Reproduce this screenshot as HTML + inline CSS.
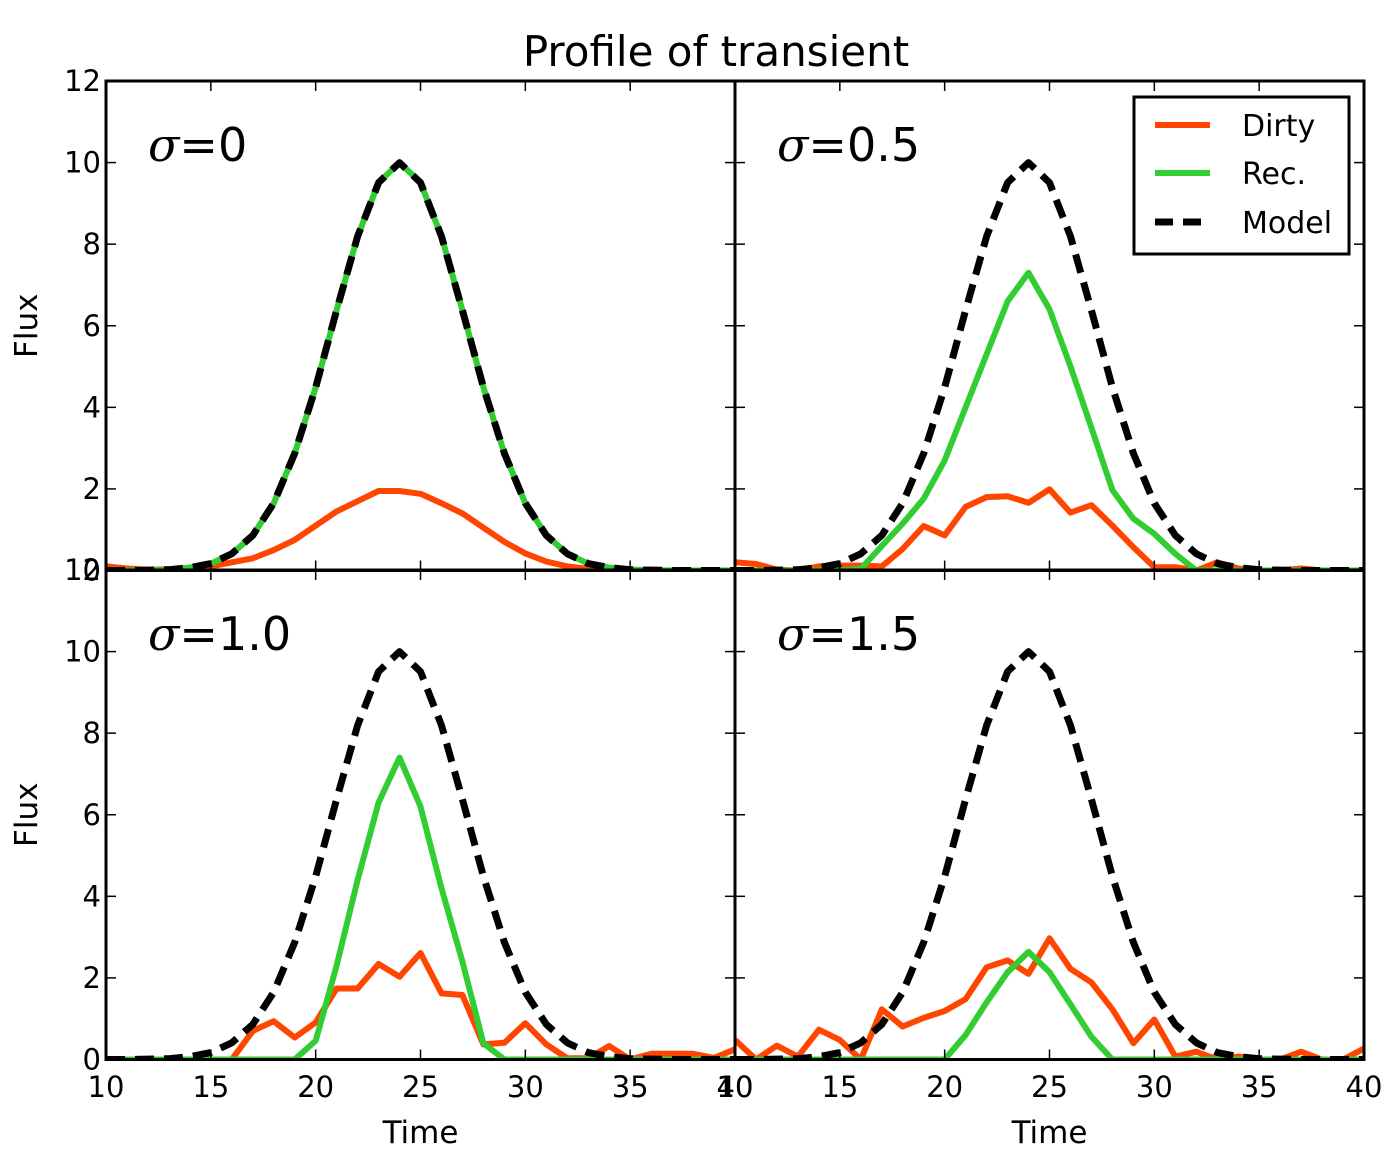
<!DOCTYPE html>
<html><head><meta charset="utf-8"><style>
html,body{margin:0;padding:0;background:#fff;}
svg{display:block;font-family:"DejaVu Sans","Liberation Sans",sans-serif;}
</style></head><body>
<svg id="fig" width="1392" height="1153" viewBox="0 0 1392 1153" xmlns="http://www.w3.org/2000/svg">
<rect width="1392" height="1153" fill="#fff"/>
<text x="716" y="66" font-size="42" text-anchor="middle">Profile of transient</text>
<g id="plots"></g>
</svg>
<script>
const times = [10,11,12,13,14,15,16,17,18,19,20,21,22,23,24,25,26,27,28,29,30,31,32,33,34,35,36,37,38,39,40];
const model = [0,0,0.01,0.02,0.07,0.17,0.41,0.86,1.65,2.87,4.49,6.38,8.19,9.51,10,9.51,8.19,6.38,4.49,2.87,1.65,0.86,0.41,0.17,0.07,0.02,0.01,0,0,0,0];
const dirty0 = [0.1,0.05,0.02,0.03,0.05,0.1,0.2,0.3,0.5,0.75,1.1,1.45,1.7,1.95,1.95,1.88,1.65,1.4,1.05,0.7,0.42,0.22,0.1,0.04,0.02,0,0,0,0,0,0];
const rec0 = [0,0,0.01,0.02,0.07,0.17,0.41,0.86,1.65,2.87,4.49,6.38,8.19,9.51,10,9.51,8.19,6.38,4.49,2.87,1.65,0.86,0.41,0.17,0.07,0.02,0.01,0,0,0,0];
const dirty05 = [0.2,0.16,0.02,0,0.1,0.12,0.12,0.1,0.53,1.09,0.86,1.56,1.8,1.82,1.66,1.99,1.42,1.6,1.1,0.57,0.08,0.08,0,0.2,0.05,0,0,0.05,0,0,0];
const rec05 = [0,0,0,0,0,0,0.04,0.6,1.15,1.76,2.7,4.0,5.3,6.6,7.3,6.4,5.0,3.5,1.97,1.27,0.9,0.41,0,0,0,0,0,0,0,0,0];
const dirty10 = [0,0,0,0,0,0,0,0.7,0.94,0.54,0.91,1.74,1.74,2.34,2.03,2.61,1.62,1.58,0.37,0.41,0.89,0.37,0.03,0.03,0.33,0,0.14,0.14,0.14,0.04,0.25];
const rec10 = [0,0,0,0,0,0,0,0,0,0,0.46,2.3,4.4,6.3,7.4,6.2,4.2,2.4,0.4,0,0,0,0,0,0,0,0,0,0,0,0];
const dirty15 = [0.48,0,0.34,0.07,0.73,0.48,0,1.23,0.81,1.02,1.19,1.48,2.26,2.43,2.1,2.97,2.22,1.89,1.23,0.4,0.98,0.07,0.19,0,0.07,0,0,0.19,0,0,0.27];
const rec15 = [0,0,0,0,0,0,0,0,0,0,0,0.6,1.4,2.14,2.64,2.14,1.35,0.56,0,0,0,0,0,0,0,0,0,0,0,0,0];
const yTicks = [0,2,4,6,8,10,12];
const xTicks = [10,15,20,25,30,35,40];
const panels = [
  {name:'sigma-0', label:'0', x0:106, y0:81, dirty:dirty0, rec:rec0, left:true, bottom:false},
  {name:'sigma-0.5', label:'0.5', x0:735, y0:81, dirty:dirty05, rec:rec05, left:false, bottom:false},
  {name:'sigma-1.0', label:'1.0', x0:106, y0:570, dirty:dirty10, rec:rec10, left:true, bottom:true},
  {name:'sigma-1.5', label:'1.5', x0:735, y0:570, dirty:dirty15, rec:rec15, left:false, bottom:true}
];
const W=629, H=489.5, NS='http://www.w3.org/2000/svg';
const root=document.getElementById('plots');
function mk(tag, attrs, parent){const e=document.createElementNS(NS,tag);for(const k in attrs)e.setAttribute(k,attrs[k]);parent.appendChild(e);return e;}
panels.forEach(p=>{
  const g=mk('g',{},root);
  
  
  const sx=t=>p.x0+(t-10)/30*W;
  const sy=v=>p.y0+H-v/12*H;
  const cid='clip-'+p.name.replace('.','_');
  const cp=mk('clipPath',{id:cid},g);mk('rect',{x:p.x0,y:p.y0,width:W,height:H},cp);
  const lines=mk('g',{'clip-path':'url(#'+cid+')'},g);
  const pts=arr=>arr.map((v,i)=>sx(times[i]).toFixed(1)+','+sy(v).toFixed(1)).join(' ');
  const ld=mk('polyline',{points:pts(p.dirty),fill:'none',stroke:'#ff4500','stroke-width':6,'stroke-linejoin':'round'},lines);
  
  
  const lr=mk('polyline',{points:pts(p.rec),fill:'none',stroke:'#32cd32','stroke-width':6,'stroke-linejoin':'round'},lines);
  
  
  const lm=mk('polyline',{points:pts(model),fill:'none',stroke:'#000','stroke-width':7,'stroke-dasharray':'19,10','stroke-linejoin':'round'},lines);
  
  
  yTicks.forEach(v=>{
    mk('line',{x1:p.x0,x2:p.x0+10,y1:sy(v),y2:sy(v),stroke:'#000','stroke-width':1.5},g);
    mk('line',{x1:p.x0+W,x2:p.x0+W-10,y1:sy(v),y2:sy(v),stroke:'#000','stroke-width':1.5},g);
    if(p.left){const t=mk('text',{x:p.x0-5,y:sy(v)+10,'font-size':29,'text-anchor':'end'},g);t.textContent=v;
      
      }
  });
  xTicks.forEach(v=>{
    mk('line',{x1:sx(v),x2:sx(v),y1:p.y0+H,y2:p.y0+H-10,stroke:'#000','stroke-width':1.5},g);
    mk('line',{x1:sx(v),x2:sx(v),y1:p.y0,y2:p.y0+10,stroke:'#000','stroke-width':1.5},g);
    if(p.bottom){const t=mk('text',{x:sx(v),y:1097,'font-size':29,'text-anchor':'middle'},g);t.textContent=v;
      
      }
  });
  mk('rect',{x:p.x0,y:p.y0,width:W,height:H,fill:'none',stroke:'#000','stroke-width':3},g);
  const sl=mk('text',{x:p.x0+42,y:p.y0+80,'font-size':46},g);
  
  
  const ts=mk('tspan',{'font-style':'italic','font-family':'"DejaVu Serif","Liberation Serif",serif'},sl);ts.textContent='σ';
  const tv=mk('tspan',{},sl);tv.textContent='='+p.label;
  if(p.left){const yl=mk('text',{x:0,y:0,'font-size':31,'text-anchor':'middle',transform:'translate(37,'+(p.y0+H/2)+') rotate(-90)'},g);yl.textContent='Flux';
    
    }
  if(p.bottom){const xl=mk('text',{x:p.x0+W/2,y:1143,'font-size':31,'text-anchor':'middle'},g);xl.textContent='Time';
    
    }
});
const lg=mk('g',{},root);


mk('rect',{x:1134,y:97,width:215,height:157,fill:'#fff',stroke:'#000','stroke-width':3},lg);
const entries=[['Dirty','#ff4500',125,''],['Rec.','#32cd32',173,''],['Model','#000',222,'18,10']];
entries.forEach(e=>{
  const eg=mk('g',{},lg);
  
  
  const ln=mk('line',{x1:1155,x2:1210,y1:e[2],y2:e[2],stroke:e[1],'stroke-width':e[3]?7:6},eg);
  if(e[3])ln.setAttribute('stroke-dasharray',e[3]);
  const t=mk('text',{x:1242,y:e[2]+11,'font-size':30},eg);t.textContent=e[0];
});
</script>
</body></html>
